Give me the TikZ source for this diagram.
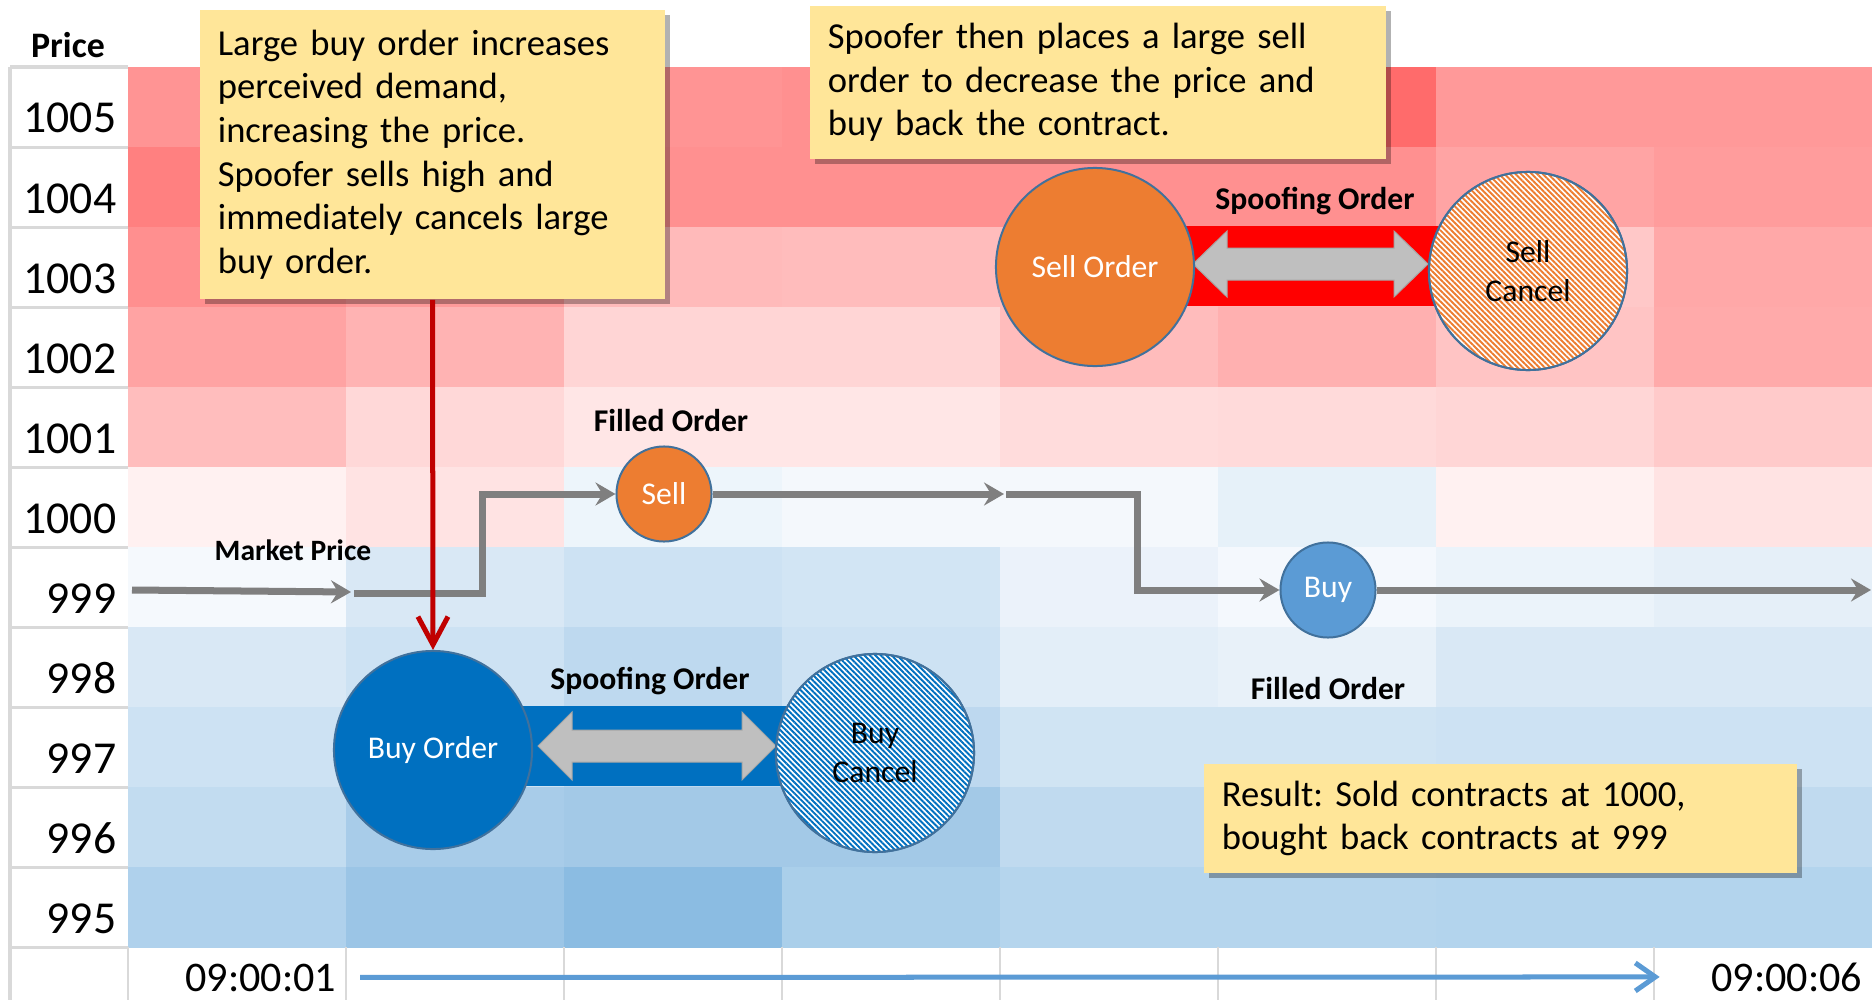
\documentclass[tikz,border=0pt]{standalone}
\usepackage{fontspec}
\setmainfont{Carlito}
\usepackage{tikz}
\usetikzlibrary{arrows.meta}
\usetikzlibrary{patterns.meta}
\usetikzlibrary{shadows}
\frenchspacing

\definecolor{notefill}{HTML}{FFE699}
\definecolor{orng}{HTML}{ED7D31}
\definecolor{dkblue}{HTML}{0070C0}
\definecolor{ltblue}{HTML}{5B9BD5}
\definecolor{rim}{HTML}{41719C}
\definecolor{mpgray}{HTML}{7F7F7F}
\definecolor{dblgray}{HTML}{BFBFBF}
\definecolor{arrgray}{HTML}{A6A6A6}
\definecolor{gridline}{HTML}{D9D9D9}
\definecolor{darkred}{HTML}{C00000}

\begin{document}
\begin{tikzpicture}[x=0.01cm,y=-0.01cm,
        note/.style={fill=notefill,align=left,inner xsep=0.18cm,inner ysep=0pt,
            font=\fontsize{10.4}{12.4}\selectfont,
            drop shadow={shadow xshift=0.05cm,shadow yshift=-0.05cm,
                fill=black,opacity=0.3}},
        order/.style={circle,draw=rim,line width=0.02cm,inner sep=0pt,
            align=center,font=\fontsize{9}{11}\selectfont},
        big/.style={minimum size=1.98cm},
        small/.style={minimum size=0.95cm},
        hatch/.style={fill=white,postaction={pattern={Lines[angle=-45,
            distance=1.1pt,line width=0.55pt]},pattern color=#1,draw=rim}},
        lbl/.style={font=\fontsize{9}{11}\selectfont\bfseries},
        mp/.style={mpgray,line width=0.07cm,
            -{Stealth[length=0.2cm,width=0.23cm,inset=0.07cm]}}]
        \useasboundingbox [fill=white] (0,0) rectangle (1872,1000);

        % Heat map
        \foreach \i/\cols in {
            0/{FF9494,FF9494,FF9494,FF9090,FF9090,FF6B6B,FF9999,FF9999},
            1/{FF8080,FF8A8A,FF9090,FF9090,FF9090,FF9090,FFA4A4,FF9C9C},
            2/{FF8F8F,FF9A9A,FFBABA,FFBCBC,FFBCBC,FFB5B5,FFC8C8,FFA8A8},
            3/{FFA3A3,FFB3B3,FFD5D5,FFD5D5,FFBCBC,FFB0B0,FFC4C4,FFAAAA},
            4/{FFBDBD,FFD8D8,FFE6E6,FFE6E6,FFDCDC,FFDADA,FFD6D6,FFCACA},
            5/{FFF1F1,FFE3E3,EDF5FB,F4F8FC,F4F8FC,E6F1F9,FFF1F1,FFE3E3},
            6/{F5F9FD,D9E8F5,CDE2F3,D2E5F4,EBF2FA,F4F8FD,EBF3FA,E5EFF8},
            7/{D9E8F5,CDE2F3,BED9EF,CDE2F3,E3EEF8,E8F1F9,D9E8F5,D9E8F5},
            8/{CDE2F3,CDE2F3,BDD8EF,BDD8EF,D0E4F3,D0E4F3,CDE2F3,CDE2F3},
            9/{C2DCF0,A8CCE9,A3C9E7,A3C9E7,C0DAEF,C0DAEF,C0DAEF,C0DAEF},
            10/{AFD1EC,9BC5E6,8BBCE2,AACFEA,B5D5ED,B5D5ED,B3D4ED,B3D4ED}} {
            \foreach \c [count=\k from 0] in \cols {
                \definecolor{cellc}{HTML}{\c}
                \path [fill=cellc] ({128+218*\k},{67+80*\i}) rectangle ++(219,81);
            }
        }

        % Price column
        \node [font=\fontsize{10.2}{12}\selectfont\bfseries] (price) at (68,45) {Price};
        \foreach \p [count=\i from 0] in {1005,1004,1003,1002,1001,1000,999,998,997,996,995} {
            \node [anchor=base east,inner sep=0pt,font=\fontsize{13}{15}\selectfont]
                (p\p) at (117,{67+80*\i+66}) {\p};
            \draw [gridline,line width=0.03cm] (10,{67+80*\i}) -- (128,{67+80*\i});
        }
        \draw [gridline,line width=0.03cm] (10,947) -- (128,947);
        \draw [gridline,line width=0.03cm] (10,67) -- (10,1000);

        % Time axis
        \foreach \x in {128,346,...,1654}
            \draw [gridline,line width=0.02cm] (\x,947) -- (\x,1000);
        \node [anchor=base east,inner sep=0pt,font=\fontsize{12}{14}\selectfont]
            (t1) at (337,991) {09:00:01};
        \node [anchor=base east,inner sep=0pt,font=\fontsize{12}{14}\selectfont]
            (t6) at (1863,991) {09:00:06};
        \draw [ltblue,line width=0.05cm,shorten <=0.23cm,shorten >=0.51cm,
            -{Straight Barb[length=0.2cm,width=0.28cm]}] (t1.east) -- (t6.west);

        % Spoofing bars
        \path [fill=dkblue] (500,706) rectangle (800,786);
        \path [fill=red] (1150,226) rectangle (1460,306);
        \path [fill=dblgray,draw=arrgray,line width=0.01cm] (538,746) -- (572,712)
            -- (572,730) -- (742,730) -- (742,712) -- (776,746) -- (742,780)
            -- (742,762) -- (572,762) -- (572,780) -- cycle;
        \path [fill=dblgray,draw=arrgray,line width=0.01cm] (1193,264) -- (1227,231)
            -- (1227,248) -- (1394,248) -- (1394,231) -- (1428,264) -- (1394,297)
            -- (1394,280) -- (1227,280) -- (1227,297) -- cycle;

        % Orders
        \node [order,big,fill=dkblue,text=white] (buyord) at (433,750) {Buy Order};
        \node [order,big,hatch=dkblue] (buycan) at (875,753) {Buy\\Cancel};
        \node [order,big,fill=orng,text=white] (sellord) at (1095,267) {Sell Order};
        \node [order,big,hatch=orng] (sellcan) at (1528,271) {Sell\\Cancel};
        \node [order,small,fill=orng,text=white] (sellfill) at (664,494) {Sell};
        \node [order,small,fill=ltblue,text=white] (buyfill) at (1328,590) {Buy};

        % Market price
        \coordinate (m0) at (132,590);
        \coordinate (m1) at (351,592);
        \draw [mp] (m0) -- (m1);
        \coordinate (m1b) at (354,593);
        \coordinate (c1) at (482,593);
        \coordinate (c2) at (482,494);
        \draw [mp] (m1b) -- (c1) -- (c2) -- (sellfill.west);
        \coordinate (m2) at (1004,494);
        \draw [mp] (sellfill) -- (m2);
        \coordinate (m2b) at (1006,494);
        \coordinate (c3) at (1137,494);
        \coordinate (c4) at (1137,590);
        \draw [mp] (m2b) -- (c3) -- (c4) -- (buyfill.west);
        \coordinate (m3) at (1871,590);
        \draw [mp] (buyfill) -- (m3);

        % Notes
        \node [note,text width=4.29cm,minimum height=2.89cm] (note1) at (432.5,154.5)
            {Large buy order increases\\perceived demand,\\increasing the price.\\
            Spoofer sells high and\\immediately cancels large\\buy order.};
        \node [note,text width=5.40cm,minimum height=1.53cm] (note2) at (1098,82.5)
            {Spoofer then places a large sell\\order to decrease the price and\\
            buy back the contract.};
        \node [note,text width=5.57cm,minimum height=1.09cm] (note3) at (1500.5,818.5)
            {Result: Sold contracts at 1000,\\bought back contracts at 999};
        \draw [darkred,line width=0.05cm,-{Straight Barb[length=0.28cm,width=0.3cm]}]
            (note1.south) -- (buyord.north);

        % Labels
        \node [lbl,font=\fontsize{8.4}{10}\selectfont\bfseries] (mkt) at (293,550) {Market Price};
        \node [lbl] (fills) at (671,421) {Filled Order};
        \node [lbl] (fillb) at (1328,689) {Filled Order};
        \node [lbl] (spoofb) at (650,681) {Spoofing Order};
        \node [lbl] (spoofs) at (1315,201) {Spoofing Order};
\end{tikzpicture}
\end{document}
